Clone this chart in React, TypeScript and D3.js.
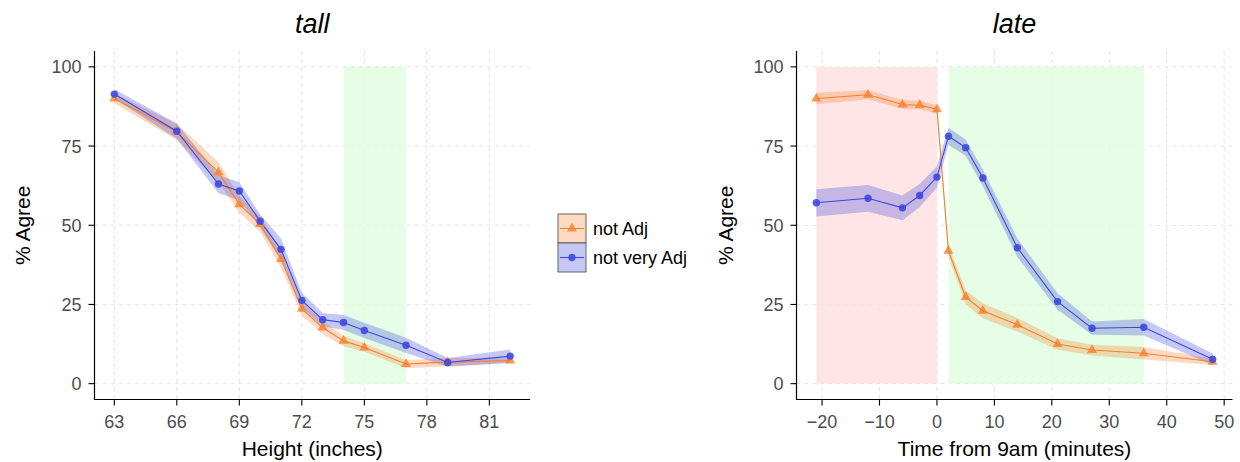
import React from 'react';
import * as d3 from 'd3';

// tall panel
const tallHeights = [63, 66, 68, 69, 70, 71, 72, 73, 74, 75, 77, 79, 82];
const tallNotAdj = [90.0, 79.5, 66.7, 56.6, 50.4, 39.3, 23.6, 17.7, 13.5, 11.4, 6.2, 6.8, 7.3];
const tallNotAdjErr = [1.6, 2.5, 3.2, 2.6, 2.5, 2.6, 2.1, 2.1, 1.7, 1.3, 1.3, 1.3, 0.8];
const tallNotVery = [91.4, 79.7, 63.0, 60.8, 51.3, 42.4, 26.3, 20.2, 19.3, 16.8, 12.1, 6.7, 8.7];
const tallNotVeryErr = [1.5, 2.4, 2.9, 2.8, 2.1, 3.4, 2.4, 2.1, 2.4, 2.4, 2.4, 1.4, 2.1];
const tallTicks = [63, 66, 69, 72, 75, 78, 81];
const tallBands = [{ from: 74, to: 77, kind: 'green' }];

// late panel
const lateTimes = [-21, -12, -6, -3, 0, 2, 5, 8, 14, 21, 27, 36, 48];
const lateNotAdj = [90.0, 91.2, 88.1, 87.9, 86.6, 41.9, 27.3, 23.0, 18.6, 12.5, 10.6, 9.6, 6.9];
const lateNotAdjErr = [1.8, 1.4, 1.4, 1.4, 1.3, 1.8, 2.2, 2.4, 2.1, 1.8, 1.7, 2.0, 1.0];
const lateNotVery = [57.1, 58.5, 55.5, 59.4, 65.2, 78.1, 74.5, 64.9, 42.9, 25.9, 17.5, 17.8, 7.7];
const lateNotVeryErr = [4.3, 4.2, 3.9, 3.6, 3.4, 2.7, 2.6, 2.6, 2.9, 2.6, 2.1, 2.6, 1.8];
const lateTicks = [-20, -10, 0, 10, 20, 30, 40, 50];
const lateBands = [
  { from: -21, to: 0, kind: 'red' },
  { from: 2, to: 36, kind: 'green' },
];

const yTicks = [0, 25, 50, 75, 100];
const seriesNames = ['not Adj', 'not very Adj'];

const ORANGE = '#F5802D';
const BLUE = '#3E48DE';
const bandFill: Record<string, string> = { green: '#E0FEE0', red: '#FFE1E1' };
const FONT = '"Liberation Sans", Arial, Helvetica, sans-serif';

const top = 51, bottom = 399.5;

const tri = d3.symbol().type(d3.symbolTriangle).size(44)();

function Panel({ title, xLabel, xs, s1, e1, s2, e2, ticks, bands, left, right, yTitleX }) {
  const pad = (d3.max(xs) - d3.min(xs)) * 0.05;
  const x = d3.scaleLinear().domain([d3.min(xs) - pad, d3.max(xs) + pad]).range([left, right]);
  const y = d3.scaleLinear().domain([-5, 105]).range([bottom, top]);
  const fmt = d3.format('d');

  const mk = (vals, errs) => xs.map((v, i) => ({ x: v, y: vals[i], lo: vals[i] - errs[i], hi: vals[i] + errs[i] }));
  const a = mk(s1, e1);
  const b = mk(s2, e2);
  const area = d3.area().x(d => x(d.x)).y0(d => y(d.lo)).y1(d => y(d.hi));
  const line = d3.line().x(d => x(d.x)).y(d => y(d.y));

  return (
    <g>
      {/* grid */}
      {ticks.map(t => (
        <line key={'gx' + t} x1={x(t)} x2={x(t)} y1={top} y2={bottom} stroke="#e3e3e3" strokeDasharray="4,4" />
      ))}
      {yTicks.map(t => (
        <line key={'gy' + t} x1={left} x2={right} y1={y(t)} y2={y(t)} stroke="#e3e3e3" strokeDasharray="4,4" />
      ))}
      {bands.map((r, i) => (
        <rect key={'b' + i} x={x(r.from)} width={x(r.to) - x(r.from)} y={y(100)} height={y(0) - y(100)}
          fill={bandFill[r.kind]} fillOpacity={0.85} />
      ))}
      <path d={area(a)} fill={ORANGE} fillOpacity={0.3} />
      <path d={area(b)} fill={BLUE} fillOpacity={0.3} />
      <path d={line(a)} fill="none" stroke={ORANGE} strokeWidth={1.1} />
      <path d={line(b)} fill="none" stroke={BLUE} strokeWidth={1.1} />
      {a.map((d, i) => (
        <path key={'pa' + i} d={tri} transform={`translate(${x(d.x)},${y(d.y)})`} fill={ORANGE} fillOpacity={0.8} />
      ))}
      {b.map((d, i) => (
        <circle key={'pb' + i} cx={x(d.x)} cy={y(d.y)} r={3.7} fill={BLUE} fillOpacity={0.9} />
      ))}
      {/* axes */}
      <line x1={left} x2={left} y1={top} y2={bottom + 0.5} stroke="#000" strokeWidth={1.2} />
      <line x1={left} x2={right} y1={bottom} y2={bottom} stroke="#000" strokeWidth={1.2} />
      {yTicks.map(t => (
        <g key={'yt' + t}>
          <line x1={left - 6} x2={left} y1={y(t)} y2={y(t)} stroke="#000" strokeWidth={1.1} />
          <text x={left - 13} y={y(t)} dy="0.36em" textAnchor="end" fontSize={18} fill="#4d4d4d">{t}</text>
        </g>
      ))}
      {ticks.map(t => (
        <g key={'xt' + t}>
          <line x1={x(t)} x2={x(t)} y1={bottom} y2={bottom + 6} stroke="#000" strokeWidth={1.1} />
          <text x={x(t)} y={428} textAnchor="middle" fontSize={18} fill="#4d4d4d">{fmt(t)}</text>
        </g>
      ))}
      <text x={(left + right) / 2} y={456} textAnchor="middle" fontSize={21} fill="#000">{xLabel}</text>
      <text transform={`translate(${yTitleX},${(top + bottom) / 2}) rotate(-90)`} dy="0.36em" textAnchor="middle" fontSize={21} fill="#000">% Agree</text>
      <text x={(left + right) / 2} y={33} textAnchor="middle" fontSize={27} fontStyle="italic" fill="#000">{title}</text>
    </g>
  );
}

function Legend({ x0, y0 }) {
  const kw = 28, kh = 29;
  const cols = [ORANGE, BLUE];
  return (
    <g>
      {seriesNames.map((n, i) => {
        const yy = y0 + i * kh;
        return (
          <g key={n}>
            <rect x={x0} y={yy} width={kw} height={kh} fill="#fff" />
            <rect x={x0} y={yy} width={kw} height={kh} fill={cols[i]} fillOpacity={0.3} stroke="#555" strokeWidth={0.9} />
            <line x1={x0 + 2} x2={x0 + kw - 2} y1={yy + kh / 2} y2={yy + kh / 2} stroke={cols[i]} strokeWidth={1.1} />
            {i === 0 ? (
              <path d={tri} transform={`translate(${x0 + kw / 2},${yy + kh / 2})`} fill={cols[i]} fillOpacity={0.8} />
            ) : (
              <circle cx={x0 + kw / 2} cy={yy + kh / 2} r={3.7} fill={cols[i]} fillOpacity={0.9} />
            )}
            <text x={x0 + kw + 7} y={yy + kh / 2} dy="0.36em" fontSize={18} fill="#000">{n}</text>
          </g>
        );
      })}
    </g>
  );
}

export default function App() {
  return (
    <svg width={1240} height={462} style={{ position: 'absolute', left: 0, top: 0, fontFamily: FONT }}>
      <rect width={1240} height={462} fill="#fff" />
      <Panel title="tall" xLabel="Height (inches)" xs={tallHeights} s1={tallNotAdj} e1={tallNotAdjErr}
        s2={tallNotVery} e2={tallNotVeryErr} ticks={tallTicks} bands={tallBands} left={94.5} right={530} yTitleX={22} />
      <Panel title="late" xLabel="Time from 9am (minutes)" xs={lateTimes} s1={lateNotAdj} e1={lateNotAdjErr}
        s2={lateNotVery} e2={lateNotVeryErr} ticks={lateTicks} bands={lateBands} left={796.5} right={1232.5} yTitleX={725} />
      <Legend x0={558} y0={214} />
    </svg>
  );
}
